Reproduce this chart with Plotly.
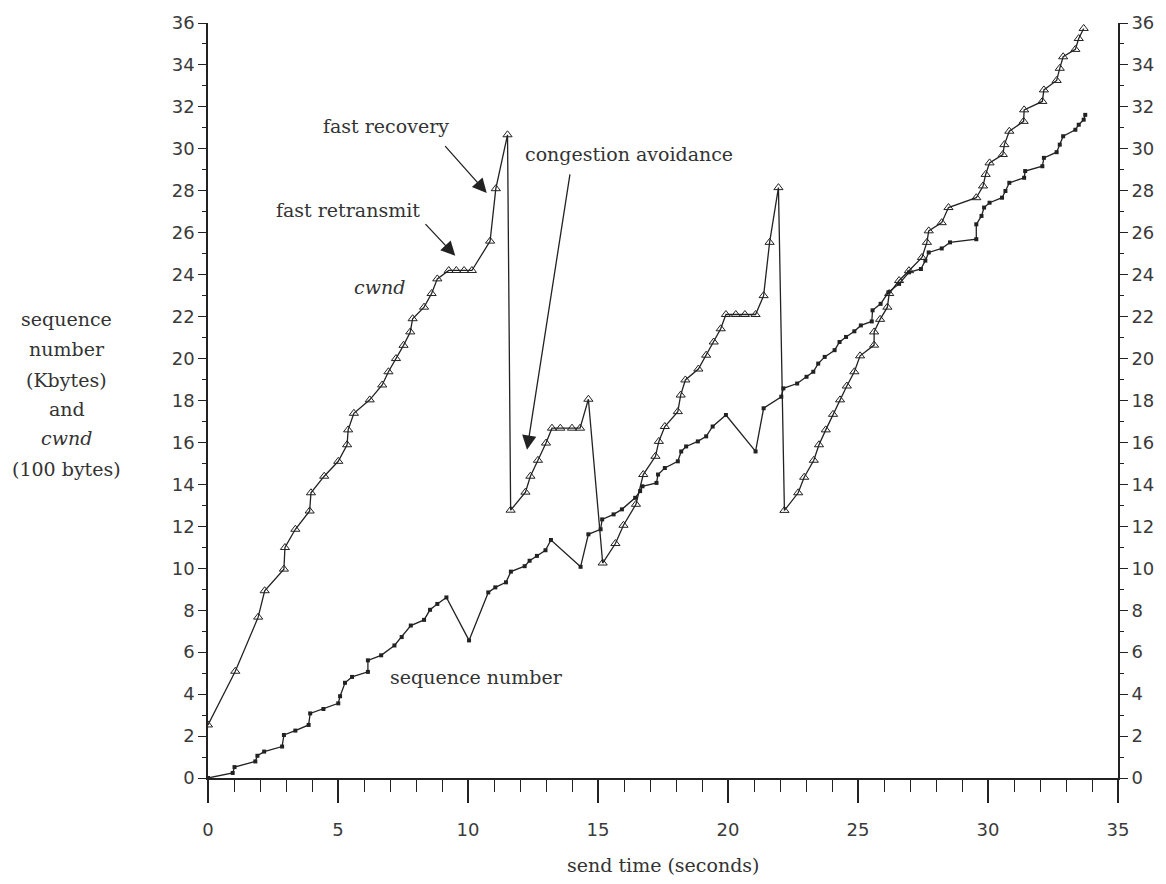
import plotly.graph_objects as go

# cwnd (100 bytes) against send time (seconds)
cwnd_t = [0, 1.05, 1.93, 2.18, 2.92, 2.96, 3.36, 3.91, 3.96, 4.47,
          5.01, 5.35, 5.39, 5.61, 6.22, 6.70, 6.94, 7.23, 7.52, 7.78,
          7.87, 8.31, 8.60, 8.82, 9.26, 9.55, 9.85, 10.15, 10.85, 11.07,
          11.52, 11.64, 12.21, 12.40, 12.69, 13.00, 13.23, 13.55, 14.00, 14.31,
          14.63, 15.18, 15.67, 15.98, 16.46, 16.74, 17.21, 17.34, 17.57, 18.07,
          18.18, 18.36, 18.86, 19.16, 19.45, 19.72, 19.92, 20.30, 20.65, 21.06,
          21.37, 21.60, 21.94, 22.17, 22.70, 22.93, 23.30, 23.50, 23.76, 24.04,
          24.31, 24.57, 24.86, 25.08, 25.62, 25.62, 25.85, 26.13, 26.20, 26.58,
          26.96, 27.46, 27.65, 27.72, 28.22, 28.48, 29.55, 29.81, 29.91, 30.06,
          30.57, 30.63, 30.82, 31.37, 31.39, 32.09, 32.15, 32.64, 32.76, 32.89,
          33.36, 33.49, 33.68]
cwnd_v = [2.53, 5.09, 7.67, 8.93, 9.96, 10.99, 11.86, 12.73, 13.6, 14.39,
          15.1, 15.89, 16.6, 17.39, 18.03, 18.74, 19.37, 20.0, 20.63, 21.27,
          21.9, 22.45, 23.1, 23.8, 24.2, 24.2, 24.2, 24.2, 25.6, 28.1,
          30.67, 12.77, 13.63, 14.39, 15.15, 15.97, 16.68, 16.68, 16.68, 16.68,
          18.06, 10.25, 11.18, 12.05, 13.05, 14.47, 15.34, 16.05, 16.76, 17.47,
          18.26, 18.98, 19.5, 20.16, 20.79, 21.42, 22.1, 22.1, 22.1, 22.1,
          23.0, 25.54, 28.15, 12.76, 13.6, 14.34, 15.15, 15.89, 16.6, 17.34,
          18.03, 18.69, 19.37, 20.13, 20.64, 21.27, 21.87, 22.45, 23.1, 23.72,
          24.19, 24.82, 25.54, 26.09, 26.48, 27.2, 27.67, 28.23, 28.78, 29.33,
          29.73, 30.2, 30.84, 31.31, 31.86, 32.26, 32.81, 33.26, 33.84, 34.39,
          34.74, 35.26, 35.74]

# sequence number (Kbytes) against send time (seconds)
seq_t = [0, 0.95, 1.02, 1.82, 1.90, 2.16, 2.85, 2.92, 3.36, 3.87,
         3.93, 4.44, 5.01, 5.08, 5.27, 5.54, 6.15, 6.15, 6.66, 7.17,
         7.45, 7.80, 8.31, 8.54, 8.82, 9.17, 10.04, 10.78, 11.05, 11.46,
         11.65, 12.18, 12.37, 12.65, 12.98, 13.19, 14.33, 14.63, 15.10, 15.16,
         15.60, 15.92, 16.43, 16.62, 16.71, 17.25, 17.31, 17.57, 18.07, 18.20,
         18.39, 18.84, 19.16, 19.41, 19.92, 21.06, 21.37, 22.05, 22.13, 22.66,
         23.02, 23.28, 23.47, 23.72, 24.10, 24.29, 24.54, 24.86, 25.11, 25.53,
         25.56, 25.87, 26.17, 26.58, 26.96, 27.42, 27.59, 27.72, 28.22, 28.54,
         29.55, 29.55, 29.75, 29.85, 30.06, 30.54, 30.67, 30.82, 31.39, 31.43,
         32.09, 32.15, 32.64, 32.76, 32.89, 33.36, 33.49, 33.68, 33.74]
seq_v = [0, 0.24, 0.52, 0.79, 1.06, 1.26, 1.5, 2.05, 2.26, 2.53,
         3.08, 3.29, 3.56, 3.9, 4.54, 4.82, 5.06, 5.61, 5.85, 6.32,
         6.72, 7.27, 7.54, 8.02, 8.3, 8.61, 6.56, 8.85, 9.09, 9.33,
         9.84, 10.1, 10.36, 10.59, 10.86, 11.35, 10.07, 11.62, 11.86, 12.33,
         12.57, 12.81, 13.36, 13.68, 13.91, 14.07, 14.47, 14.78, 15.1, 15.57,
         15.81, 16.05, 16.29, 16.76, 17.31, 15.57, 17.63, 18.18, 18.58, 18.81,
         19.13, 19.37, 19.76, 20.08, 20.4, 20.79, 21.03, 21.3, 21.58, 21.77,
         22.3, 22.61, 23.16, 23.56, 24.11, 24.27, 24.67, 25.06, 25.25, 25.54,
         25.69, 26.4, 26.8, 27.2, 27.43, 27.67, 27.99, 28.38, 28.62, 28.94,
         29.17, 29.57, 29.84, 30.2, 30.6, 30.91, 31.15, 31.39, 31.62]

x_ticks = [0, 5, 10, 15, 20, 25, 30, 35]
y_ticks = list(range(0, 37, 2))
y_title_lines = ["sequence", "number", "(Kbytes)", "and", "<i>cwnd</i>", "(100 bytes)"]

INK = "#222222"
TEXT = "#333333"
SERIF = "DejaVu Serif"
SANS = "DejaVu Sans"

fig = go.Figure()
fig.add_trace(go.Scatter(
    x=cwnd_t, y=cwnd_v, mode="lines+markers", name="cwnd",
    line=dict(color=INK, width=1.3),
    marker=dict(symbol="triangle-up-open", size=8, color=INK, line=dict(width=1)),
))
fig.add_trace(go.Scatter(
    x=seq_t, y=seq_v, mode="lines+markers", name="sequence number",
    line=dict(color=INK, width=1.3),
    marker=dict(symbol="square", size=4, color=INK),
))
# carrier trace so the right-hand axis is drawn
fig.add_trace(go.Scatter(x=[None], y=[None], yaxis="y2", showlegend=False, hoverinfo="skip"))

label_font = dict(family=SERIF, size=19, color=TEXT)

annotations = [
    dict(x=6.84, y=31.1, text="fast recovery"),
    dict(x=5.4, y=27.07, text="fast retransmit"),
    dict(x=6.6, y=23.4, text="<i>cwnd</i>"),
    dict(x=16.2, y=29.77, text="congestion avoidance"),
    dict(x=10.34, y=4.8, text="sequence number"),
]
annotations = [dict(a, xref="x", yref="y", showarrow=False, font=label_font) for a in annotations]

arrows = [
    dict(x=10.72, y=27.9, ax=9.07, ay=30.2),
    dict(x=9.51, y=24.9, ax=8.31, ay=26.48),
    dict(x=12.27, y=15.65, ax=13.93, ay=28.85),
]
for a in arrows:
    annotations.append(dict(a, xref="x", yref="y", axref="x", ayref="y", text="",
                            showarrow=True, arrowhead=2, arrowsize=2.2,
                            arrowwidth=1.3, arrowcolor=INK))

# multi-line y axis title at the left
title_rows = [21.9, 20.45, 18.98, 17.6, 16.2, 14.75]
for row, txt in zip(title_rows, y_title_lines):
    annotations.append(dict(xref="paper", yref="y", x=-0.155, y=row, text=txt,
                            showarrow=False, xanchor="center", yanchor="middle",
                            font=label_font))
annotations.append(dict(xref="paper", yref="paper", x=0.5, y=-0.1156,
                        text="send time (seconds)", showarrow=False,
                        xanchor="center", yanchor="middle", font=label_font))

tick_font = dict(family=SANS, size=18, color="#3a3a3a")
yaxis_common = dict(
    range=[0, 36], tickvals=y_ticks, showgrid=False, zeroline=False,
    showline=True, linecolor=INK, linewidth=1.6,
    ticks="outside", ticklen=8, tickwidth=1.4, tickcolor=INK,
    minor=dict(dtick=1, ticks="outside", ticklen=4, tickwidth=1.2, tickcolor=INK),
    tickfont=tick_font, fixedrange=True,
)

fig.update_layout(
    width=1166, height=884,
    margin=dict(l=208, r=38, t=19, b=106),
    paper_bgcolor="white", plot_bgcolor="white",
    showlegend=False,
    xaxis=dict(
        range=[0, 35], tickvals=x_ticks, showgrid=False, zeroline=False,
        showline=True, linecolor=INK, linewidth=1.6,
        ticks="outside", ticklen=23, tickwidth=1.6, tickcolor=INK,
        minor=dict(dtick=1, ticks="outside", ticklen=12, tickwidth=1.4, tickcolor=INK),
        tickfont=tick_font, ticklabelstandoff=12,
    ),
    yaxis=dict(yaxis_common, side="left"),
    yaxis2=dict(yaxis_common, side="right", overlaying="y", anchor="x"),
    annotations=annotations,
)

fig.write_html("out.html")
